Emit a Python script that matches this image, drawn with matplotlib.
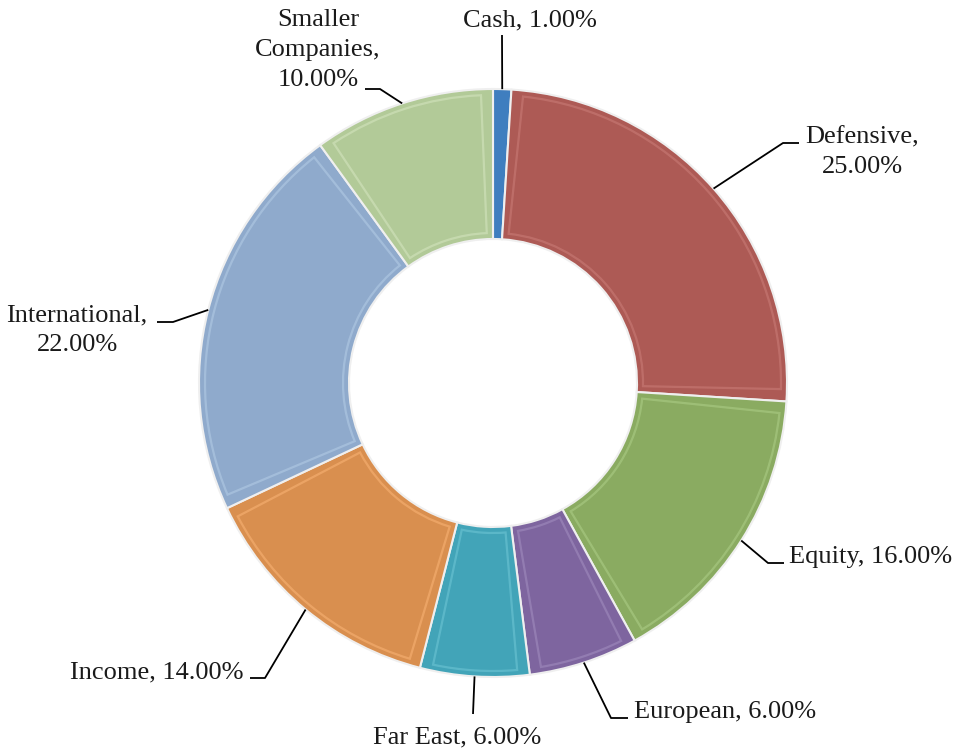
import matplotlib.pyplot as plt
from matplotlib.patches import Wedge
import numpy as np

# allocation data
categories = ["Cash", "Defensive", "Equity", "European", "Far East",
              "Income", "International", "Smaller\nCompanies"]
shares = [1.00, 25.00, 16.00, 6.00, 6.00, 14.00, 22.00, 10.00]
colors = ["#3F7EBF", "#AD5A55", "#8AAB61", "#7E659F", "#42A4B8",
          "#D98F4F", "#8FAACC", "#B2CA98"]
rim = ["#5A93CC", "#C2736E", "#A3C47C", "#9882B6", "#62BCCD",
       "#F0A96A", "#A9C2DE", "#CBDDB4"]

W, H = 967, 750
CX, CY, R, RING = 493, H - 383, 294, 150

plt.rcParams["font.family"] = ["Liberation Serif", "DejaVu Serif"]

fig = plt.figure(figsize=(W / 100, H / 100), dpi=100)
ax = fig.add_axes([0, 0, 1, 1])

wedges, _ = ax.pie(shares, colors=colors, startangle=90, counterclock=False,
                   radius=R, center=(CX, CY),
                   wedgeprops=dict(width=RING, edgecolor="#EFEFEF", linewidth=1.5))

# soft bevel: inset outline in a lighter tint
inset = 6
for w, c in zip(wedges, rim):
    dth = np.rad2deg(inset / (R - RING))
    t1, t2 = w.theta1 + dth, w.theta2 - dth
    if t2 - t1 < 2:
        continue
    ax.add_patch(Wedge((CX, CY), R - inset, t1, t2, width=RING - 2 * inset,
                       facecolor="none", edgecolor=c, lw=1.6, alpha=0.8))

ax.set_xlim(0, W)
ax.set_ylim(0, H)
ax.set_aspect("equal")
ax.axis("off")

# label layout in image pixel coords: (elbow, line end, text pos, ha)
layout = [
    ((502, 35), None, (530, 20), "center"),
    ((783, 143), (799, 143), (862, 152), "center"),
    ((768, 563), (784, 563), (789, 557), "left"),
    ((611, 718), (628, 718), (634, 712), "left"),
    ((473, 714), None, (457, 737), "center"),
    ((265, 678), (250, 678), (244, 672), "right"),
    ((173, 322), (157, 322), (77, 330), "center"),
    ((380, 89), (365, 89), (318, 50), "center"),
]

for w, cat, val, (elbow, end, tpos, ha) in zip(wedges, categories, shares, layout):
    mid = np.deg2rad((w.theta1 + w.theta2) / 2)
    x0 = CX + R * np.cos(mid)
    y0 = CY + R * np.sin(mid)
    xs = [x0, elbow[0]]
    ys = [y0, H - elbow[1]]
    if end is not None:
        xs.append(end[0])
        ys.append(H - end[1])
    ax.plot(xs, ys, color="black", lw=1.3, solid_capstyle="butt")
    if "\n" in cat or cat in ("Defensive", "International"):
        label = f"{cat},\n{val:.2f}%"
    else:
        label = f"{cat}, {val:.2f}%"
    ax.text(tpos[0], H - tpos[1], label, ha=ha, va="center", fontsize=19,
            color="#1A1A1A", multialignment="center", linespacing=1.45)

fig.savefig("out.png", dpi=100)
